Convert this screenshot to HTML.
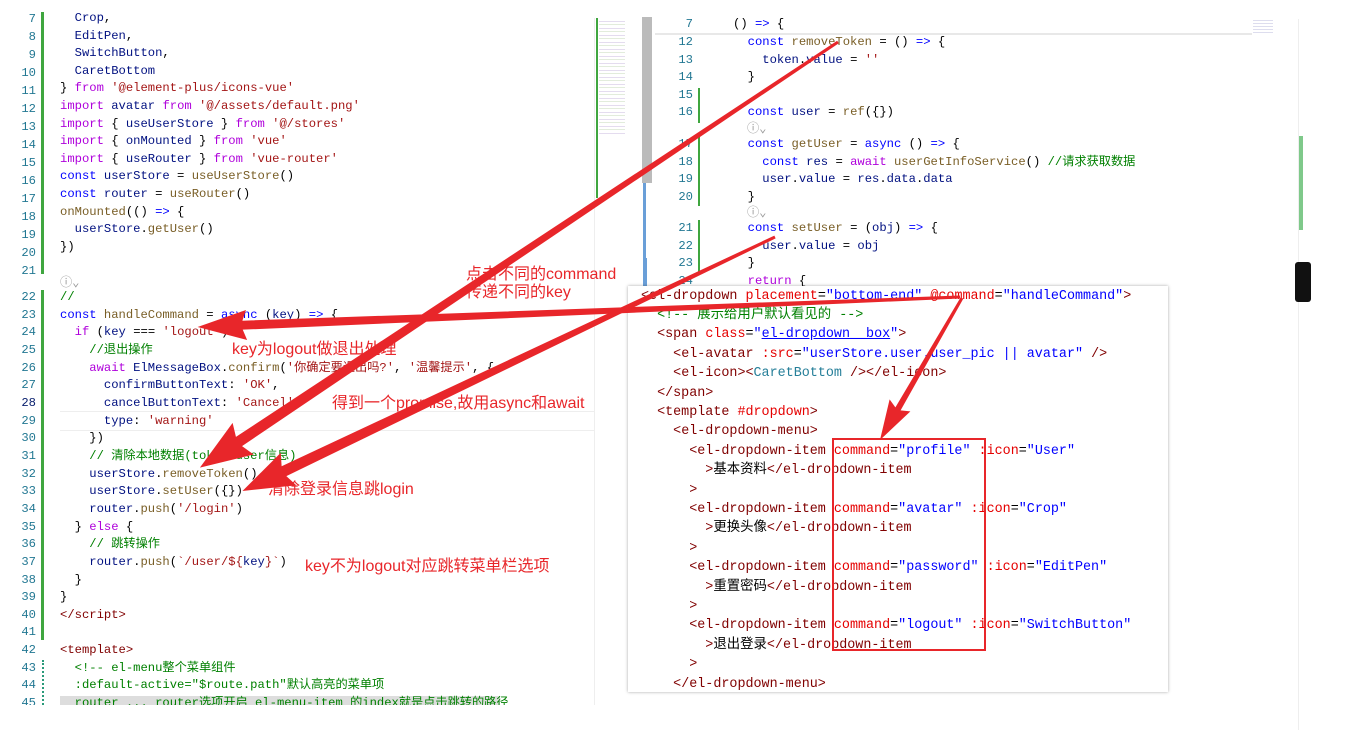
<!DOCTYPE html>
<html><head><meta charset="utf-8"><style>
html,body{margin:0;padding:0;background:#fff;width:1361px;height:730px;overflow:hidden;position:relative}
.c{position:absolute;white-space:pre;font-family:"Liberation Mono","Noto Sans CJK SC",monospace;font-size:12.2px;line-height:18px;color:#000}
.n{position:absolute;white-space:pre;font-family:"Liberation Mono",monospace;font-size:12.2px;line-height:18px;color:#237893;text-align:right}
.p{position:absolute;white-space:pre;font-family:"Liberation Mono","Noto Sans CJK SC",monospace;font-size:13.4px;line-height:19px;color:#000}
.a{position:absolute;white-space:pre;font-family:"Liberation Sans","Noto Sans CJK SC",sans-serif;font-size:16px;line-height:18px;color:#e8262a}
.k{color:#0000ff}.m{color:#af00db}.s{color:#a31515}.f{color:#795e26}.v{color:#001080}.g{color:#008000}.t{color:#267f99}
.tg{color:#800000}.at{color:#e50000}.q{color:#0000ff}
</style></head><body>

<!-- left pane -->
<div style="position:absolute;left:41px;top:12px;width:3px;height:262px;background:#3fa63f"></div>
<div style="position:absolute;left:41px;top:290px;width:3px;height:350px;background:#3fa63f"></div>
<div style="position:absolute;left:42px;top:660px;width:2px;height:45px;border-left:2px dotted #2a9a7a"></div>
<div style="position:absolute;left:60px;top:411px;width:534px;height:18px;border-top:1px solid #eee;border-bottom:1px solid #eee"></div>
<div style="position:absolute;left:60px;top:696px;width:440px;height:9px;background:#ddd"></div>
<div style="position:absolute;left:594px;top:18px;width:1px;height:687px;background:#eee"></div>
<div style="position:absolute;left:0;top:0;width:600px;height:12px;background:#fff;z-index:2"></div>
<div style="position:absolute;left:0;top:705px;width:600px;height:25px;background:#fff;z-index:2"></div>

<div class="n" style="left:0;width:36px;top:10px">7
8
9
10
11
12
13
14
15
16
17
18
19
20
21</div>
<div class="n" style="left:0;width:36px;top:289px;line-height:17.65px">22
23
24
25
26
27
<span style="color:#0b216f">28</span>
29
30
31
32
33
34
35
36
37
38
39
40
41
42
43
44
45</div>

<div class="c" style="left:60px;top:10px;line-height:17.6px">  <span class="v">Crop</span>,
  <span class="v">EditPen</span>,
  <span class="v">SwitchButton</span>,
  <span class="v">CaretBottom</span>
} <span class="m">from</span> <span class="s">'@element-plus/icons-vue'</span>
<span class="m">import</span> <span class="v">avatar</span> <span class="m">from</span> <span class="s">'@/assets/default.png'</span>
<span class="m">import</span> { <span class="v">useUserStore</span> } <span class="m">from</span> <span class="s">'@/stores'</span>
<span class="m">import</span> { <span class="v">onMounted</span> } <span class="m">from</span> <span class="s">'vue'</span>
<span class="m">import</span> { <span class="v">useRouter</span> } <span class="m">from</span> <span class="s">'vue-router'</span>
<span class="k">const</span> <span class="v">userStore</span> = <span class="f">useUserStore</span>()
<span class="k">const</span> <span class="v">router</span> = <span class="f">useRouter</span>()
<span class="f">onMounted</span>(() <span class="k">=&gt;</span> {
  <span class="v">userStore</span>.<span class="f">getUser</span>()
})
</div>
<div class="c" style="left:60px;top:274px;color:#999">ⓘ⌄</div>
<div class="c" style="left:60px;top:289px;line-height:17.65px"><span class="g">//</span>
<span class="k">const</span> <span class="f">handleCommand</span> = <span class="k">async</span> (<span class="v">key</span>) <span class="k">=&gt;</span> {
  <span class="m">if</span> (<span class="v">key</span> === <span class="s">'logout'</span>) {
    <span class="g">//退出操作</span>
    <span class="m">await</span> <span class="v">ElMessageBox</span>.<span class="f">confirm</span>(<span class="s">'你确定要退出吗?'</span>, <span class="s">'温馨提示'</span>, {
      <span class="v">confirmButtonText</span>: <span class="s">'OK'</span>,
      <span class="v">cancelButtonText</span>: <span class="s">'Cancel'</span>,
      <span class="v">type</span>: <span class="s">'warning'</span>
    })
    <span class="g">// 清除本地数据(token+user信息)</span>
    <span class="v">userStore</span>.<span class="f">removeToken</span>()
    <span class="v">userStore</span>.<span class="f">setUser</span>({})
    <span class="v">router</span>.<span class="f">push</span>(<span class="s">'/login'</span>)
  } <span class="m">else</span> {
    <span class="g">// 跳转操作</span>
    <span class="v">router</span>.<span class="f">push</span>(<span class="s">`/user/${</span><span class="v">key</span><span class="s">}`</span>)
  }
}
<span class="tg">&lt;/script&gt;</span>

<span class="tg">&lt;template&gt;</span>
  <span class="g">&lt;!-- el-menu整个菜单组件</span>
  <span class="g">:default-active="$route.path"默认高亮的菜单项</span>
  <span class="g">router ... router选项开启 el-menu-item 的index就是点击跳转的路径</span></div>

<!-- minimap & scrollbar -->
<div style="position:absolute;left:599px;top:18px;width:26px;height:118px;background:repeating-linear-gradient(#fff 0 3px,#e4dcef 3px 4px,#fff 4px 6px,#e2ecdc 6px 7px)"></div>
<div style="position:absolute;left:596px;top:18px;width:2px;height:180px;background:#3fa63f"></div>
<div style="position:absolute;left:642px;top:17px;width:10px;height:166px;background:#bbb"></div>
<div style="position:absolute;left:643px;top:258px;width:4px;height:30px;background:#6a9fd8"></div>
<div style="position:absolute;left:643px;top:183px;width:3px;height:75px;background:#6a9fd8"></div>

<!-- right pane -->
<div style="position:absolute;left:655px;top:33px;width:597px;height:2px;background:#e8e8e8"></div>
<div style="position:absolute;left:698px;top:88px;width:2px;height:35px;background:#3fa63f"></div>
<div style="position:absolute;left:698px;top:136px;width:2px;height:70px;background:#3fa63f"></div>
<div style="position:absolute;left:698px;top:220px;width:2px;height:52px;background:#3fa63f"></div>
<div style="position:absolute;left:1298px;top:19px;width:1px;height:711px;background:#eee"></div>
<div style="position:absolute;left:1299px;top:136px;width:4px;height:94px;background:#7fc98a"></div>
<div style="position:absolute;left:1295px;top:262px;width:16px;height:40px;background:#111;border-radius:3px"></div>
<div style="position:absolute;left:1253px;top:18px;width:20px;height:15px;background:repeating-linear-gradient(#fff 0 2px,#dde 2px 3px)"></div>

<div class="n" style="left:660px;width:33px;top:15px">7</div>
<div class="n" style="left:660px;width:33px;top:34px;line-height:17.6px">12
13
14
15
16</div>
<div class="n" style="left:660px;width:33px;top:136px;line-height:17.6px">17
18
19
20</div>
<div class="n" style="left:660px;width:33px;top:220px;line-height:17.6px">21
22
23
24</div>
<div class="c" style="left:733px;top:15px">() <span class="k">=&gt;</span> {</div>
<div class="c" style="left:733px;top:34px;line-height:17.6px">  <span class="k">const</span> <span class="f">removeToken</span> = () <span class="k">=&gt;</span> {
    <span class="v">token</span>.<span class="v">value</span> = <span class="s">''</span>
  }

  <span class="k">const</span> <span class="v">user</span> = <span class="f">ref</span>({})</div>
<div class="c" style="left:747px;top:120px;color:#999">ⓘ⌄</div>
<div class="c" style="left:733px;top:136px;line-height:17.6px">  <span class="k">const</span> <span class="f">getUser</span> = <span class="k">async</span> () <span class="k">=&gt;</span> {
    <span class="k">const</span> <span class="v">res</span> = <span class="m">await</span> <span class="f">userGetInfoService</span>() <span class="g">//请求获取数据</span>
    <span class="v">user</span>.<span class="v">value</span> = <span class="v">res</span>.<span class="v">data</span>.<span class="v">data</span>
  }</div>
<div class="c" style="left:747px;top:204px;color:#999">ⓘ⌄</div>
<div class="c" style="left:733px;top:220px;line-height:17.6px">  <span class="k">const</span> <span class="f">setUser</span> = (<span class="v">obj</span>) <span class="k">=&gt;</span> {
    <span class="v">user</span>.<span class="v">value</span> = <span class="v">obj</span>
  }
  <span class="m">return</span> {</div>

<!-- popup -->
<div style="position:absolute;left:628px;top:286px;width:540px;height:406px;background:#fff;box-shadow:0 0 3px rgba(0,0,0,.35);z-index:3"></div>
<div class="p" style="left:641px;top:286.5px;line-height:19.4px;z-index:4"><span class="tg">&lt;el-dropdown</span> <span class="at">placement</span>=<span class="q">"bottom-end"</span> <span class="at">@command</span>=<span class="q">"handleCommand"</span><span class="tg">&gt;</span>
  <span class="g">&lt;!-- 展示给用户默认看见的 --&gt;</span>
  <span class="tg">&lt;span</span> <span class="at">class</span>=<span class="q">"<u>el-dropdown__box</u>"</span><span class="tg">&gt;</span>
    <span class="tg">&lt;el-avatar</span> <span class="at">:src</span>=<span class="q">"userStore.user.user_pic || avatar"</span> <span class="tg">/&gt;</span>
    <span class="tg">&lt;el-icon&gt;&lt;</span><span class="t">CaretBottom</span> <span class="tg">/&gt;&lt;/el-icon&gt;</span>
  <span class="tg">&lt;/span&gt;</span>
  <span class="tg">&lt;template</span> <span class="at">#dropdown</span><span class="tg">&gt;</span>
    <span class="tg">&lt;el-dropdown-menu&gt;</span>
      <span class="tg">&lt;el-dropdown-item</span> <span class="at">command</span>=<span class="q">"profile"</span> <span class="at">:icon</span>=<span class="q">"User"</span>
        <span class="tg">&gt;</span>基本资料<span class="tg">&lt;/el-dropdown-item</span>
      <span class="tg">&gt;</span>
      <span class="tg">&lt;el-dropdown-item</span> <span class="at">command</span>=<span class="q">"avatar"</span> <span class="at">:icon</span>=<span class="q">"Crop"</span>
        <span class="tg">&gt;</span>更换头像<span class="tg">&lt;/el-dropdown-item</span>
      <span class="tg">&gt;</span>
      <span class="tg">&lt;el-dropdown-item</span> <span class="at">command</span>=<span class="q">"password"</span> <span class="at">:icon</span>=<span class="q">"EditPen"</span>
        <span class="tg">&gt;</span>重置密码<span class="tg">&lt;/el-dropdown-item</span>
      <span class="tg">&gt;</span>
      <span class="tg">&lt;el-dropdown-item</span> <span class="at">command</span>=<span class="q">"logout"</span> <span class="at">:icon</span>=<span class="q">"SwitchButton"</span>
        <span class="tg">&gt;</span>退出登录<span class="tg">&lt;/el-dropdown-item</span>
      <span class="tg">&gt;</span>
    <span class="tg">&lt;/el-dropdown-menu&gt;</span></div>
<div style="position:absolute;left:832px;top:438px;width:150px;height:209px;border:2px solid #e8262a;z-index:5"></div>

<!-- annotations -->
<div class="a" style="left:466px;top:266px;z-index:6">点击不同的command
传递不同的key</div>
<div class="a" style="left:232px;top:341px;z-index:6">key为logout做退出处理</div>
<div class="a" style="left:332px;top:395px;z-index:6">得到一个promise,故用async和await</div>
<div class="a" style="left:268px;top:481px;z-index:6">清除登录信息跳login</div>
<div class="a" style="left:305px;top:558px;z-index:6">key不为logout对应跳转菜单栏选项</div>

<svg width="1361" height="730" style="position:absolute;left:0;top:0;z-index:7" fill="#e8262a">
<g transform="translate(838,42) rotate(146.3)"><polygon points="0,-1.5 720,-5.5 715,-19 767,0 715,19 720,5.5 0,1.5"/></g>
<g transform="translate(960,297) rotate(177.75)"><polygon points="0,-1.5 718,-4.5 714,-15 763,0 714,15 718,4.5 0,1.5"/></g>
<g transform="translate(775,237) rotate(154.5)"><polygon points="0,-1.5 544,-5.5 539,-18 590,0 539,18 544,5.5 0,1.5"/></g>
<g transform="translate(962,298) rotate(120)"><polygon points="0,-1.5 128,-3 124,-12 164,0 124,12 128,3 0,1.5"/></g>
</svg>
</body></html>
